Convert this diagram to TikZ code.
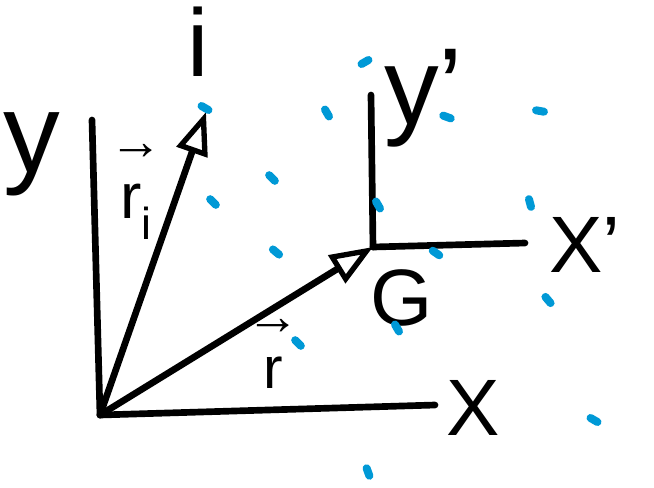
\documentclass[tikz,border=0pt]{standalone}
\usepackage{fontspec}
\setmainfont{Liberation Sans}
\usepackage{tikz}
\usetikzlibrary{arrows.meta, positioning}
\definecolor{dotblue}{RGB}{0,153,214}

\tikzset{
  axisline/.style={line width=5pt, line cap=round, line join=round},
  vecline/.style={axisline, -{Triangle[open, length=32pt, width=24pt, line width=4pt]}},
  lbl/.style={inner sep=0pt, font=\fontsize{#1}{#1}\selectfont},
  veclbl/.style={inner sep=0pt, align=center, font=\fontsize{#1}{#1}\selectfont},
  particle/.style={dotblue, line width=6pt, line cap=round},
}

\begin{document}
\begin{tikzpicture}[x=0.75pt, y=-0.75pt]
  \useasboundingbox (0,0) rectangle (654,487);

  % frames
  \coordinate (O) at (100,415);
  \coordinate (yend) at (92,120);
  \coordinate (xend) at (435,405);
  \coordinate (G) at (373,247);
  \coordinate (ypend) at (371,95);
  \coordinate (xpend) at (525,243);
  \coordinate (pi) at (206,112);

  \draw[axisline] (O) -- (yend);
  \draw[axisline] (O) -- (xend);
  \draw[axisline] (G) -- (ypend);
  \draw[axisline] (G) -- (xpend);
  \draw[vecline] (O) -- (pi);
  \draw[vecline] (O) -- (G);

  % labels
  \node[lbl=85pt, anchor=base] (ylab) at (32,172) {y};
  \node[lbl=60pt] (xlab) at (473,408) {X};
  \node[lbl=60pt] (xplab) at (585,245) {X’};
  \node[lbl=82pt, anchor=base west] (yplab) at (384,124) {y’};
  \node[lbl=60pt] (glab) at (402,298) {G};
  \node[lbl=72pt, anchor=base] (ilab) at (198,76) {i};
  \node[veclbl=48pt] (rilab) at (136,192)
    {{\fontsize{40pt}{40pt}\selectfont →}\\[-4pt] r\textsubscript{i}};
  \node[veclbl=44pt] (rlab) at (273,354)
    {{\fontsize{40pt}{40pt}\selectfont →}\\[-3pt] r};

  % particles
  \foreach \px/\py/\ang in {205/108/30, 327/113/60, 365/62/-30, 447/117/20,
      540/111/10, 272/178/45, 213/202/45, 378/205/60, 530/203/75,
      276/252/40, 436/253/35, 548/300/50, 397/328/60, 298/343/45,
      594/420/30, 368/472/70} {
    \draw[particle] (\px,\py) ++(\ang:4) -- ++(\ang+180:8);
  }
\end{tikzpicture}
\end{document}
